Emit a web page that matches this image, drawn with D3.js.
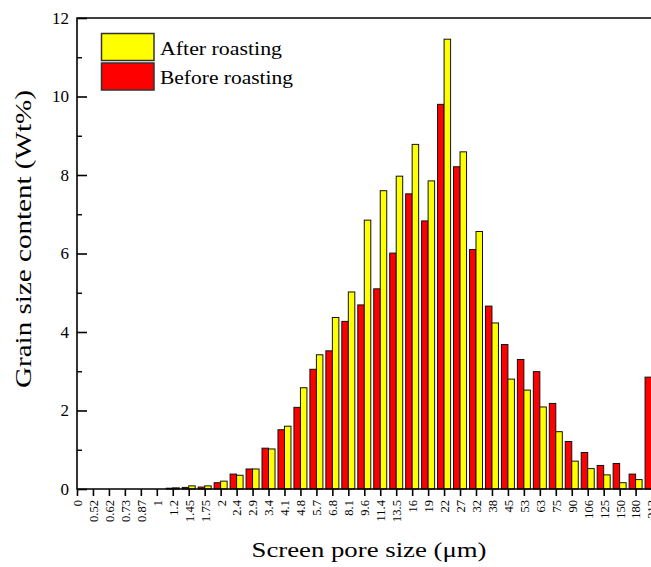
<!DOCTYPE html>
<html>
<head>
<meta charset="utf-8">
<script src="https://cdnjs.cloudflare.com/ajax/libs/d3/7.8.5/d3.min.js"></script>
<style>
body { margin: 0; background: #fff; }
svg { display: block; font-family: 'Liberation Serif', 'Times New Roman', serif; }
</style>
</head>
<body>
<div id="chart"></div>
<script>
// data //
var sizes = ['0', '0.52', '0.62', '0.73', '0.87', '1', '1.2', '1.45', '1.75', '2', '2.4', '2.9',
		'3.4', '4.1', '4.8', '5.7', '6.8', '8.1', '9.6', '11.4', '13.5', '16', '19', '22', '27', '32',
		'38', '45', '53', '63', '75', '90', '106', '125', '150', '180', '212']

var afterRoasting = [0, 0, 0, 0, 0, 0, 0.03, 0.08, 0.08, 0.2, 0.35, 0.51,
		1.02, 1.6, 2.58, 3.42, 4.37, 5.02, 6.85, 7.6, 7.97, 8.78, 7.85, 11.46, 8.59, 6.56,
		4.23, 2.8, 2.52, 2.09, 1.46, 0.71, 0.52, 0.36, 0.16, 0.24, 0]

var beforeRoasting = [0, 0, 0, 0, 0, 0, 0.02, 0.04, 0.05, 0.16, 0.38, 0.51,
		1.04, 1.51, 2.08, 3.05, 3.52, 4.27, 4.69, 5.1, 6.01, 7.52, 6.83, 9.8, 8.21, 6.1,
		4.66, 3.68, 3.3, 2.99, 2.18, 1.21, 0.93, 0.6, 0.65, 0.38, 2.85]

var yTicks = [0, 2, 4, 6, 8, 10, 12],
		yMinorTicks = [1, 3, 5, 7, 9, 11]

var legendItems = [
	{ 'label': 'After roasting', 'color': '#ffff00' },
	{ 'label': 'Before roasting', 'color': '#ff0000' }
]

// layout //
var visWidth = 651,
		visHeight = 567,
		plotLeft = 77,
		plotTop = 18,
		plotBottom = 489,
		step = 15.96,
		barWidth = 6.5

var vis = d3.select('#chart')
	.append('svg')
		.attr('width', visWidth)
		.attr('height', visHeight)

vis.append('rect')
	.attr('width', visWidth)
	.attr('height', visHeight)
	.attr('fill', '#fff')

var x = d3.scalePoint()
	.domain(sizes)
	.range([plotLeft, plotLeft + step * (sizes.length - 1)])

var y = d3.scaleLinear()
	.domain([0, 12])
	.range([plotBottom, plotTop])

// bars
var groups = vis.selectAll('g.pair')
		.data(sizes).enter()
	.append('g')
		.attr('class', 'pair')

groups.append('rect')
	.attr('x', function(d){ return x(d) - barWidth })
	.attr('y', function(d, i){ return y(beforeRoasting[i]) })
	.attr('width', barWidth)
	.attr('height', function(d, i){ return y(0) - y(beforeRoasting[i]) })
	.attr('fill', '#ff0000')
	.attr('stroke', '#111')
	.attr('stroke-width', 1)

groups.append('rect')
	.attr('x', function(d){ return x(d) })
	.attr('y', function(d, i){ return y(afterRoasting[i]) })
	.attr('width', barWidth)
	.attr('height', function(d, i){ return y(0) - y(afterRoasting[i]) })
	.attr('fill', '#ffff00')
	.attr('stroke', '#111')
	.attr('stroke-width', 1)

// frame
vis.append('path')
	.attr('d', 'M' + (visWidth + 20) + ',' + plotTop + 'H' + plotLeft + 'V' + plotBottom + 'H' + (visWidth + 20))
	.attr('fill', 'none')
	.attr('stroke', '#000')
	.attr('stroke-width', 1.6)

// x axis
var xAxis = vis.append('g')
	.attr('transform', 'translate(0,' + plotBottom + ')')
	.call(d3.axisBottom(x).tickSize(7).tickSizeOuter(0))

xAxis.select('.domain').remove()
xAxis.selectAll('line').attr('stroke-width', 1.6)
xAxis.selectAll('text')
	.attr('transform', 'rotate(-90)')
	.attr('x', -11)
	.attr('y', 0)
	.attr('dy', '0.35em')
	.style('text-anchor', 'end')
	.style('font-size', '12.5px')
	.style('font-family', "'Liberation Serif', serif")
	.attr('fill', '#000')

// y axis
var yAxis = vis.append('g')
	.attr('transform', 'translate(' + plotLeft + ',0)')
	.call(d3.axisLeft(y).tickValues(yTicks).tickSize(-10).tickPadding(8).tickSizeOuter(0))

yAxis.select('.domain').remove()
yAxis.selectAll('line').attr('stroke-width', 1.6)
yAxis.selectAll('text')
	.style('font-size', '17px')
	.style('font-family', "'Liberation Serif', serif")
	.attr('fill', '#000')

var yMinor = vis.append('g')
	.attr('transform', 'translate(' + plotLeft + ',0)')
	.call(d3.axisLeft(y).tickValues(yMinorTicks).tickSize(-5).tickFormat('').tickSizeOuter(0))

yMinor.select('.domain').remove()
yMinor.selectAll('line').attr('stroke-width', 1.4)

// axis titles
vis.append('text')
	.attr('transform', 'translate(31,239) rotate(-90)')
	.attr('text-anchor', 'middle')
	.attr('textLength', 298)
	.attr('lengthAdjust', 'spacingAndGlyphs')
	.style('font-size', '23px')
	.text('Grain size content (Wt%)')

vis.append('text')
	.attr('x', 369)
	.attr('y', 557)
	.attr('text-anchor', 'middle')
	.attr('textLength', 235)
	.attr('lengthAdjust', 'spacingAndGlyphs')
	.style('font-size', '22px')
	.text('Screen pore size (\u03bcm)')

// legend
var legend = vis.selectAll('g.legend')
		.data(legendItems).enter()
	.append('g')
		.attr('class', 'legend')
		.attr('transform', function(d, i){ return 'translate(101.5,' + (33.5 + i * 29.5) + ')' })

legend.append('rect')
	.attr('width', 52.5)
	.attr('height', 27)
	.attr('fill', function(d){ return d.color })
	.attr('stroke', '#333')
	.attr('stroke-width', 1.5)

legend.append('text')
	.attr('x', 58.5)
	.attr('y', 21)
	.attr('textLength', function(d, i){ return i ? 133 : 122 })
	.attr('lengthAdjust', 'spacingAndGlyphs')
	.style('font-size', '19px')
	.text(function(d){ return d.label })
</script>
</body>
</html>
